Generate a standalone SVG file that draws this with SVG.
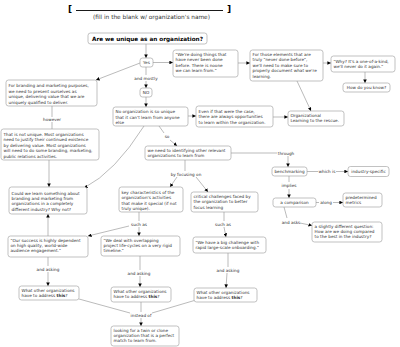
<svg xmlns="http://www.w3.org/2000/svg" width="400" height="347" viewBox="0 0 400 347">
<defs>
<style>
.box{fill:#fff;stroke:#999;stroke-width:0.6}
.t{font-family:"DejaVu Sans",Verdana,sans-serif;font-size:4.2px;fill:#333}
.c{text-anchor:middle}
.ln{stroke:#777;stroke-width:0.5;fill:none}
.ar{stroke:#777;stroke-width:0.5;fill:none;marker-end:url(#ah)}
</style>
<marker id="ah" viewBox="0 0 10 10" refX="10" refY="5" markerWidth="3.6" markerHeight="3.6" markerUnits="userSpaceOnUse" orient="auto">
<path d="M0,0 L10,5 L0,10 z" fill="#000"/>
</marker>
</defs>
<rect width="400" height="347" fill="#fff"/>

<g id="title">
<text x="68" y="12" font-family="DejaVu Sans,sans-serif" font-weight="bold" font-size="9" fill="#000">[</text>
<line x1="76" y1="10.5" x2="223" y2="10.5" stroke="#000" stroke-width="0.9"/>
<text x="227" y="12" font-family="DejaVu Sans,sans-serif" font-weight="bold" font-size="9" fill="#000">]</text>
<text x="151.5" y="18.5" class="t c" style="font-size:5.8px">(fill in the blank w/ organization's name)</text>
</g>

<g id="connectors">
<path class="ar" d="M146,44 V58"/>
<path class="ar" d="M153,62.5 H173"/>
<path class="ar" d="M238,63 H250"/>
<path class="ar" d="M323,63 H331"/>
<path class="ar" d="M365,72 V83"/>
<path class="ar" d="M140,63 L96,80"/>
<path class="ln" d="M146,67 V75"/>
<path class="ar" d="M146,81 V88"/>
<path class="ln" d="M52,106 V117"/>
<path class="ln" d="M52,122 V129"/>
<path class="ar" d="M49,160 V187"/>
<path class="ar" d="M146,97 V107"/>
<path class="ar" d="M188,116 H196"/>
<path class="ar" d="M273,117 H288"/>
<path class="ar" d="M297,81 L311,111"/>
<path class="ln" d="M159,126 L164,133"/>
<path class="ar" d="M170,140 L177,146"/>
<path class="ar" d="M144,126 Q115,172 84,188"/>
<path class="ln" d="M231,153 H277"/>
<path class="ar" d="M288,156 V167"/>
<path class="ln" d="M307,171.5 H318"/>
<path class="ar" d="M336,171.5 H348"/>
<path class="ln" d="M289,176 V182"/>
<path class="ar" d="M289,189 V198"/>
<path class="ln" d="M316,202.5 H319"/>
<path class="ar" d="M333,202.5 H343"/>
<path class="ln" d="M284,207 L287,218"/>
<path class="ar" d="M300,223 L312,225.5"/>
<path class="ln" d="M185,160 V171"/>
<path class="ar" d="M177,177 L170,187"/>
<path class="ar" d="M196,177 L208,192"/>
<path class="ln" d="M139,212 V221"/>
<path class="ar" d="M139,227 V236"/>
<path class="ar" d="M129,226 L88,236"/>
<path class="ln" d="M224,212 V221"/>
<path class="ar" d="M224,227 L226,237"/>
<path class="ar" d="M48,236 V214"/>
<path class="ln" d="M48,257 V266"/>
<path class="ar" d="M48,272 V286"/>
<path class="ln" d="M140,256 V270"/>
<path class="ar" d="M140,276 V287"/>
<path class="ln" d="M228,253 V267"/>
<path class="ar" d="M227,273 L226,288"/>
<path class="ln" d="M79,299 L130,313"/>
<path class="ln" d="M141,302 V312"/>
<path class="ln" d="M196,300 L152,313"/>
<path class="ar" d="M141,318 V326"/>
<g class="t c">
<text x="146" y="79.5">and mostly</text>
<text x="52" y="121">however</text>
<text x="167" y="138">so</text>
<text x="286" y="154.5">through</text>
<text x="327" y="173">which is</text>
<text x="289" y="187">implies</text>
<text x="326" y="204">along</text>
<text x="291" y="223.5">and asks</text>
<text x="186" y="175.5">by focusing on</text>
<text x="139" y="225.5">such as</text>
<text x="223" y="225.5">such as</text>
<text x="48" y="270.5">and asking</text>
<text x="139" y="274.5">and asking</text>
<text x="228" y="271.5">and asking</text>
<text x="141" y="316.5">instead of</text>
</g>
</g>

<g id="are">
<rect class="box" x="88" y="33" width="119" height="11" rx="2.5"/>
<text x="147.5" y="40.9" class="t c" style="font-size:5.7px;font-weight:bold;fill:#000">Are we unique as an organization?</text>
</g>
<g id="yes">
<rect class="box" x="140" y="58" width="13" height="9" rx="2.5"/>
<text x="146.5" y="64" class="t c">Yes</text>
</g>
<g id="no">
<rect class="box" x="140" y="88" width="12" height="9" rx="2.5"/>
<text x="146" y="94" class="t c">NO</text>
</g>
<g id="weredoing">
<rect class="box" x="173" y="50" width="65" height="27" rx="2.5"/>
<text class="t" y="55.5"><tspan x="175.5">"We're doing things that</tspan><tspan x="175.5" dy="5.5">have never been done</tspan><tspan x="175.5" dy="5.5">before. There is noone</tspan><tspan x="175.5" dy="5.5">we can learn from."</tspan></text>
</g>
<g id="forthose">
<rect class="box" x="250" y="50" width="73" height="31" rx="2.5"/>
<text class="t" y="55.5"><tspan x="252.5">For those elements that are</tspan><tspan x="252.5" dy="5.5">truly "never done before",</tspan><tspan x="252.5" dy="5.5">we'll need to make sure to</tspan><tspan x="252.5" dy="5.5">properly document what we're</tspan><tspan x="252.5" dy="5.5">learning.</tspan></text>
</g>
<g id="why">
<rect class="box" x="331" y="56" width="64" height="16" rx="2.5"/>
<text class="t" y="62.5"><tspan x="333.5">"Why?  It's a one-of-a-kind,</tspan><tspan x="333.5" dy="5.5">we'll never do it again."</tspan></text>
</g>
<g id="how">
<rect class="box" x="343" y="83" width="47" height="9" rx="2.5"/>
<text x="366.5" y="89" class="t c">How do you know?</text>
</g>
<g id="forbranding">
<rect class="box" x="6" y="80" width="91" height="26" rx="2.5"/>
<text class="t" y="87"><tspan x="8.5">For branding and marketing purposes,</tspan><tspan x="8.5" dy="5.5">we need to present ourselves as</tspan><tspan x="8.5" dy="5.5">unique, delivering value that we are</tspan><tspan x="8.5" dy="5.5">uniquely qualified to deliver.</tspan></text>
</g>
<g id="notunique">
<rect class="box" x="1" y="129" width="98" height="31" rx="2.5"/>
<text class="t" y="135.5"><tspan x="3.5">That is not unique.  Most organizations</tspan><tspan x="3.5" dy="5.5">need to justify their continued existence</tspan><tspan x="3.5" dy="5.5">by delivering value.  Most organizations</tspan><tspan x="3.5" dy="5.5">will need to do some branding, marketing,</tspan><tspan x="3.5" dy="5.5">public relations activities.</tspan></text>
</g>
<g id="noorg">
<rect class="box" x="113" y="107" width="75" height="19" rx="2.5"/>
<text class="t" y="113"><tspan x="115.5">No organization is so unique</tspan><tspan x="115.5" dy="5.5">that it can't learn from anyone</tspan><tspan x="115.5" dy="5.5">else</tspan></text>
</g>
<g id="evenif">
<rect class="box" x="196" y="106" width="77" height="21" rx="2.5"/>
<text class="t" y="112.8"><tspan x="198.5">Even if that were the case,</tspan><tspan x="198.5" dy="5.4">there are always opportunities</tspan><tspan x="198.5" dy="5.4">to learn within the organization.</tspan></text>
</g>
<g id="orglearn">
<rect class="box" x="288" y="111" width="56" height="15" rx="2.5"/>
<text class="t" y="116.5"><tspan x="290.5">Organizational</tspan><tspan x="290.5" dy="5.5">Learning to the rescue.</tspan></text>
</g>
<g id="weneed">
<rect class="box" x="145" y="146" width="86" height="14" rx="2.5"/>
<text class="t" y="151.5"><tspan x="147.5">we need to identifying other relevant</tspan><tspan x="147.5" dy="5.5">organizations to learn from</tspan></text>
</g>
<g id="could">
<rect class="box" x="9" y="187" width="78" height="27" rx="2.5"/>
<text class="t" y="195"><tspan x="11.5">Could we learn something about</tspan><tspan x="11.5" dy="5.2">branding and marketing from</tspan><tspan x="11.5" dy="5.2">organizations in a completely</tspan><tspan x="11.5" dy="5.2">different industry?  Why not?</tspan></text>
</g>
<g id="key">
<rect class="box" x="119" y="187" width="64" height="25" rx="2.5"/>
<text class="t" y="194"><tspan x="121.5">key characteristics of the</tspan><tspan x="121.5" dy="5.3">organization's activities</tspan><tspan x="121.5" dy="5.3">that make it special (if not</tspan><tspan x="121.5" dy="5.3">truly unique).</tspan></text>
</g>
<g id="critical">
<rect class="box" x="191" y="192" width="67" height="20" rx="2.5"/>
<text class="t" y="198"><tspan x="193.5">critical challenges faced by</tspan><tspan x="193.5" dy="5.3">the organization to better</tspan><tspan x="193.5" dy="5.3">focus learning</tspan></text>
</g>
<g id="benchmarking">
<rect class="box" x="272" y="167" width="35" height="9" rx="2.5"/>
<text x="289.5" y="173" class="t c">benchmarking</text>
</g>
<g id="industry">
<rect class="box" x="348" y="166.5" width="41" height="10" rx="2.5"/>
<text x="368.5" y="173" class="t c">industry-specific</text>
</g>
<g id="comparison">
<rect class="box" x="273" y="198" width="43" height="9" rx="2.5"/>
<text x="294.5" y="204" class="t c">a comparison</text>
</g>
<g id="predetermined">
<rect class="box" x="343" y="193" width="39" height="14" rx="2.5"/>
<text class="t" y="199"><tspan x="345.5">predetermined</tspan><tspan x="345.5" dy="5.3">metrics</tspan></text>
</g>
<g id="slightly">
<rect class="box" x="312" y="222" width="70" height="20" rx="2.5"/>
<text class="t" y="227.8"><tspan x="314.5">a slightly different question:</tspan><tspan x="314.5" dy="5.2">How are we doing compared</tspan><tspan x="314.5" dy="5.2">to the best in the industry?</tspan></text>
</g>
<g id="oursuccess">
<rect class="box" x="8" y="236" width="80" height="21" rx="2.5"/>
<text class="t" y="241.7"><tspan x="10.5">"Our success is highly dependent</tspan><tspan x="10.5" dy="5.3">on high quality, world-wide</tspan><tspan x="10.5" dy="5.3">audience engagement."</tspan></text>
</g>
<g id="wedeal">
<rect class="box" x="101" y="236" width="79" height="20" rx="2.5"/>
<text class="t" y="241.7"><tspan x="103.5">"We deal with overlapping</tspan><tspan x="103.5" dy="5.3">project life-cycles on a very rigid</tspan><tspan x="103.5" dy="5.3">timeline."</tspan></text>
</g>
<g id="wehave">
<rect class="box" x="193" y="237" width="73" height="16" rx="2.5"/>
<text class="t" y="243.5"><tspan x="195.5">"We have a big challenge with</tspan><tspan x="195.5" dy="5.4">rapid large-scale onboarding."</tspan></text>
</g>
<g id="what1">
<rect class="box" x="19" y="286" width="60" height="14" rx="2.5"/>
<text class="t" y="291.6"><tspan x="21.5">What other organizations</tspan><tspan x="21.5" dy="5.3">have to address <tspan font-weight="bold">this</tspan>?</tspan></text>
</g>
<g id="what2">
<rect class="box" x="111" y="287" width="60" height="15" rx="2.5"/>
<text class="t" y="293"><tspan x="113.5">What other organizations</tspan><tspan x="113.5" dy="5.3">have to address <tspan font-weight="bold">this</tspan>?</tspan></text>
</g>
<g id="what3">
<rect class="box" x="194" y="288" width="63" height="14" rx="2.5"/>
<text class="t" y="293.8"><tspan x="196.5">What other organizations</tspan><tspan x="196.5" dy="5.3">have to address <tspan font-weight="bold">this</tspan>?</tspan></text>
</g>
<g id="looking">
<rect class="box" x="111" y="326" width="68" height="20" rx="2.5"/>
<text class="t" y="331.7"><tspan x="113.5">looking for a twin or clone</tspan><tspan x="113.5" dy="5.3">organization that is a perfect</tspan><tspan x="113.5" dy="5.3">match to learn from.</tspan></text>
</g>
</svg>
